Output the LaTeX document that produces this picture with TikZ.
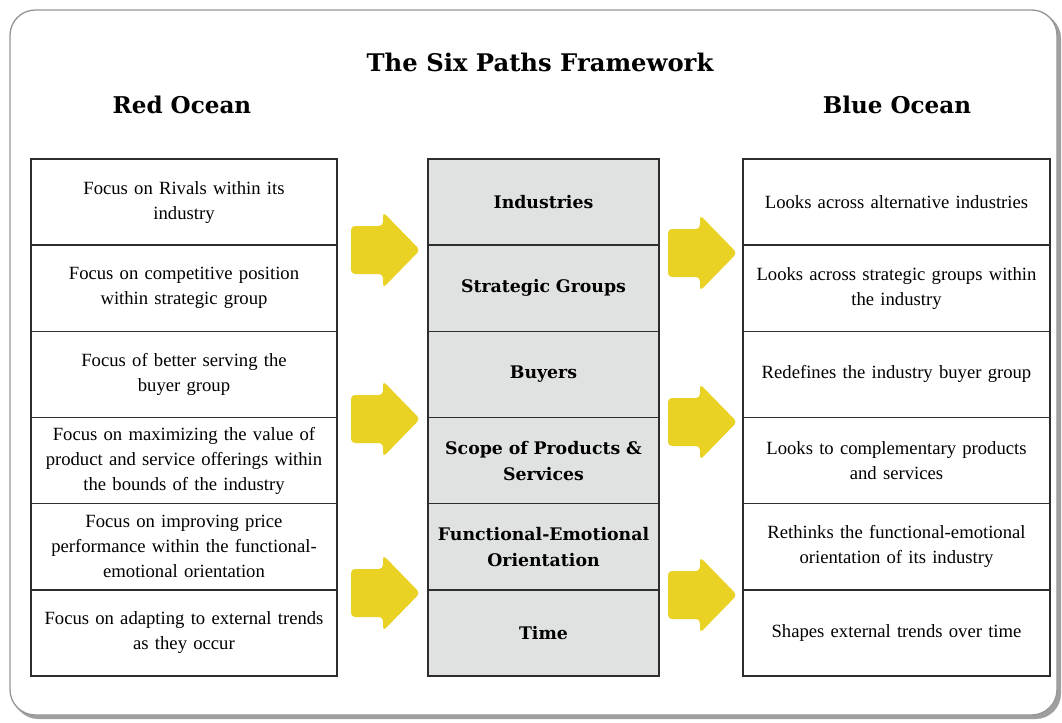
\documentclass[tikz,border=0pt]{standalone}
\usepackage{fontspec}
\setmainfont{Liberation Serif}
\newfontfamily\slab{DejaVu Serif}
\definecolor{arrowc}{RGB}{234,210,36}
\definecolor{midfill}{RGB}{224,225,225}
\definecolor{linec}{RGB}{45,45,45}
\definecolor{framec}{RGB}{150,150,150}
\tikzset{
  cell/.style={draw=linec, line width=1.1pt, minimum height=64.6pt, align=center, inner sep=1pt,
    font=\fontsize{14}{18.7}\selectfont},
  leftcell/.style={cell, minimum width=229.5pt, text width=226pt},
  rightcell/.style={cell, minimum width=230.25pt, text width=226pt},
  midcell/.style={cell, fill=midfill, minimum width=173.25pt, text width=170pt,
    font=\slab\bfseries\fontsize{13}{19.5}\selectfont},
  header/.style={font=\slab\bfseries\fontsize{17.3}{20}\selectfont},
  yarrowstyle/.style={fill=arrowc, rounded corners=3pt}
}
\newcommand\yarrow[2]{%
  \fill[yarrowstyle] (#1,#2-24) -- (#1+32,#2-24) -- (#1+32,#2-38) -- (#1+69,#2) -- (#1+32,#2+38) -- (#1+32,#2+24) -- (#1,#2+24) -- cycle;}
\begin{document}
\begin{tikzpicture}[x=0.75pt,y=-0.75pt]
\useasboundingbox (0,0) rectangle (1062,722);
% frame with shadow
\fill[gray!75, rounded corners=19pt] (13,13) rectangle (1061,719);
\fill[white, draw=framec, line width=1pt, rounded corners=19pt] (10,10) rectangle (1057,715);
% titles
\node[header, font=\slab\bfseries\fontsize{18.2}{21}\selectfont] (title) at (540,62) {The Six Paths Framework};
\node[header] (red) at (182,105) {Red Ocean};
\node[header] (blue) at (897,105) {Blue Ocean};
% left column
\node[leftcell] (l1) at (184,202.1) {Focus on Rivals within its\\industry};
\node[leftcell] (l2) at (184,288.2) {Focus on competitive position\\within strategic group};
\node[leftcell] (l3) at (184,374.4) {Focus of better serving the\\buyer group};
\node[leftcell] (l4) at (184,460.6) {Focus on maximizing the value of\\product and service offerings within\\the bounds of the industry};
\node[leftcell] (l5) at (184,546.8) {Focus on improving price\\performance within the functional-\\emotional orientation};
\node[leftcell] (l6) at (184,632.9) {Focus on adapting to external trends\\as they occur};
% middle column
\node[midcell] (m1) at (543.5,202.1) {Industries};
\node[midcell] (m2) at (543.5,288.2) {Strategic Groups};
\node[midcell] (m3) at (543.5,374.4) {Buyers};
\node[midcell] (m4) at (543.5,460.6) {Scope of Products \&\\Services};
\node[midcell] (m5) at (543.5,546.8) {Functional-Emotional\\Orientation};
\node[midcell] (m6) at (543.5,632.9) {Time};
% right column
\node[rightcell] (r1) at (896.5,202.1) {Looks across alternative industries};
\node[rightcell] (r2) at (896.5,288.2) {Looks across strategic groups within\\the industry};
\node[rightcell] (r3) at (896.5,374.4) {Redefines the industry buyer group};
\node[rightcell] (r4) at (896.5,460.6) {Looks to complementary products\\and services};
\node[rightcell] (r5) at (896.5,546.8) {Rethinks the functional-emotional\\orientation of its industry};
\node[rightcell] (r6) at (896.5,632.9) {Shapes external trends over time};
% arrows
\yarrow{351}{250}
\yarrow{351}{419}
\yarrow{351}{593}
\yarrow{668}{253}
\yarrow{668}{422}
\yarrow{668}{595}
\end{tikzpicture}
\end{document}
